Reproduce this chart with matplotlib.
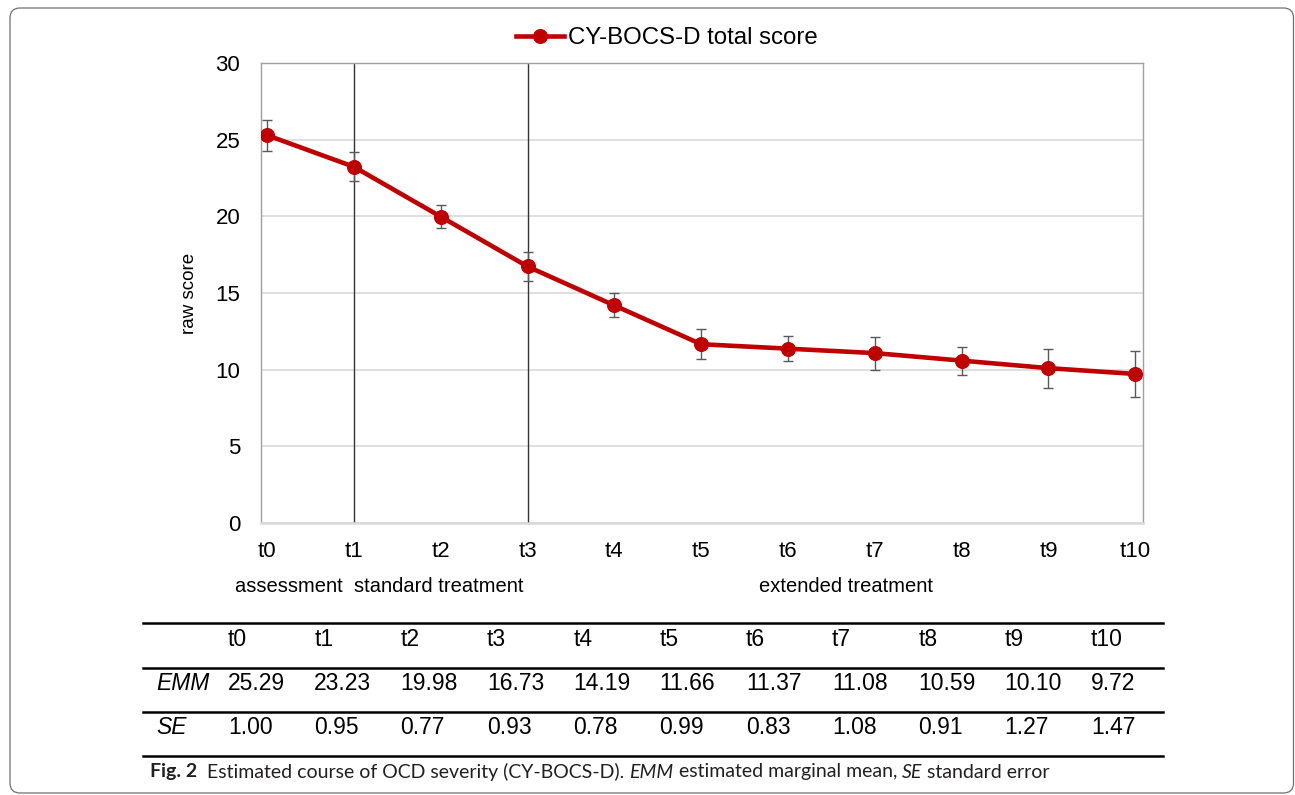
import matplotlib
matplotlib.use('Agg')
import matplotlib.pyplot as plt
from matplotlib.lines import Line2D
from matplotlib.patches import FancyBboxPatch

time_points = ['t0', 't1', 't2', 't3', 't4', 't5', 't6', 't7', 't8', 't9', 't10']
emm = [25.29, 23.23, 19.98, 16.73, 14.19, 11.66, 11.37, 11.08, 10.59, 10.10, 9.72]
se = [1.00, 0.95, 0.77, 0.93, 0.78, 0.99, 0.83, 1.08, 0.91, 1.27, 1.47]
phase_marks = ['t1', 't3']  # vertical separators between phases
series_label = 'CY-BOCS-D total score'

LINE_COLOR = '#C00000'
ERR_COLOR = '#595959'
GRID_COLOR = '#D9D9D9'
SPINE_COLOR = '#A0A0A0'

W, H = 1295, 795  # output size in pixels


def fx(px):
    return px / W


def fy(py):
    return 1 - py / H


plt.rcParams['font.family'] = ['Liberation Sans', 'DejaVu Sans']

fig = plt.figure(figsize=(W / 100, H / 100), dpi=100)

# outer rounded frame
frame = FancyBboxPatch((10 / 100, (H - 793) / 100), 1283.5 / 100, 785 / 100,
                       boxstyle='round,pad=0,rounding_size=0.1',
                       transform=fig.dpi_scale_trans, facecolor='none',
                       edgecolor='#707070', lw=0.9)
fig.add_artist(frame)

ax = fig.add_axes([fx(261), fy(523), fx(1143) - fx(261), fy(63) - fy(523)])

x = list(range(len(time_points)))
ax.errorbar(x, emm, yerr=se, fmt='none', ecolor=ERR_COLOR, elinewidth=1.0,
            capsize=3.8, capthick=1.0, zorder=3)
ax.plot(x, emm, color=LINE_COLOR, lw=3.3, marker='o', ms=9.8, label=series_label, zorder=4)
for t in phase_marks:
    ax.axvline(time_points.index(t), color='#333333', lw=1.0, zorder=2)

ax.set_ylim(0, 30)
ax.set_yticks(range(0, 31, 5))
ax.set_xlim(-0.07, 10.09)
ax.set_xticks(x)
ax.set_xticklabels(time_points)
ax.tick_params(length=0, labelsize=16)
ax.tick_params(axis='x', pad=13)
ax.tick_params(axis='y', pad=15)
ax.yaxis.grid(True, color=GRID_COLOR, lw=1.2)
ax.set_axisbelow(True)
for side in ['left', 'top', 'right']:
    ax.spines[side].set_color(SPINE_COLOR)
    ax.spines[side].set_linewidth(1.0)
ax.spines['bottom'].set_color(GRID_COLOR)
ax.spines['bottom'].set_linewidth(1.8)

ax.text(fx(190 - 261) * W / (1143 - 261), 0.5, 'raw score', transform=ax.transAxes,
        rotation=90, ha='center', va='center', fontsize=13.5)

fig.legend(loc='center', bbox_to_anchor=(fx(667), fy(38)), frameon=False,
           fontsize=17.3, handlelength=2.0, handletextpad=0.15, borderpad=0)

# phase annotations under the axis
fig.text(fx(235), fy(586), 'assessment  standard treatment', ha='left', va='center', fontsize=14.5)
fig.text(fx(846), fy(586), 'extended treatment', ha='center', va='center', fontsize=14.5)

# table below the chart
line_y = [623, 668, 712, 756]
for yy in line_y:
    fig.add_artist(Line2D([fx(143), fx(1163)], [fy(yy), fy(yy)], color='black', lw=1.8))

col_x0, col_step = 228, 86.3
tbl_size = 16.5
fig.text(fx(156), fy(683), 'EMM', style='italic', ha='left', va='center', fontsize=tbl_size)
fig.text(fx(156), fy(727), 'SE', style='italic', ha='left', va='center', fontsize=tbl_size)
for i, t in enumerate(time_points):
    cx = fx(col_x0 + i * col_step)
    fig.text(cx, fy(640), t, ha='left', va='center', fontsize=tbl_size)
    fig.text(cx, fy(683), f'{emm[i]:.2f}', ha='left', va='center', fontsize=tbl_size)
    fig.text(cx, fy(727), f'{se[i]:.2f}', ha='left', va='center', fontsize=tbl_size)

# caption, drawn piece by piece to mix bold / italic
renderer = fig.canvas.get_renderer()
cap_font = ['Lato', 'DejaVu Sans']
cap_size = 14
pieces = [
    ('Fig. 2', dict(weight='bold')),
    ('  Estimated course of OCD severity (CY-BOCS-D). ', {}),
    ('EMM', dict(style='italic')),
    (' estimated marginal mean, ', {}),
    ('SE', dict(style='italic')),
    (' standard error', {}),
]


def text_width(s, **kw):
    a = fig.text(0, 0, '.' + s + '.', fontsize=cap_size, family=cap_font, **kw)
    b = fig.text(0, 0, '..', fontsize=cap_size, family=cap_font, **kw)
    w = a.get_window_extent(renderer).width - b.get_window_extent(renderer).width
    a.remove()
    b.remove()
    return w


cur = 150
for s, kw in pieces:
    fig.text(fx(cur), fy(772), s, ha='left', va='center', fontsize=cap_size,
             family=cap_font, color='#231F20', **kw)
    cur += text_width(s, **kw)

fig.savefig('out.png', dpi=100)
